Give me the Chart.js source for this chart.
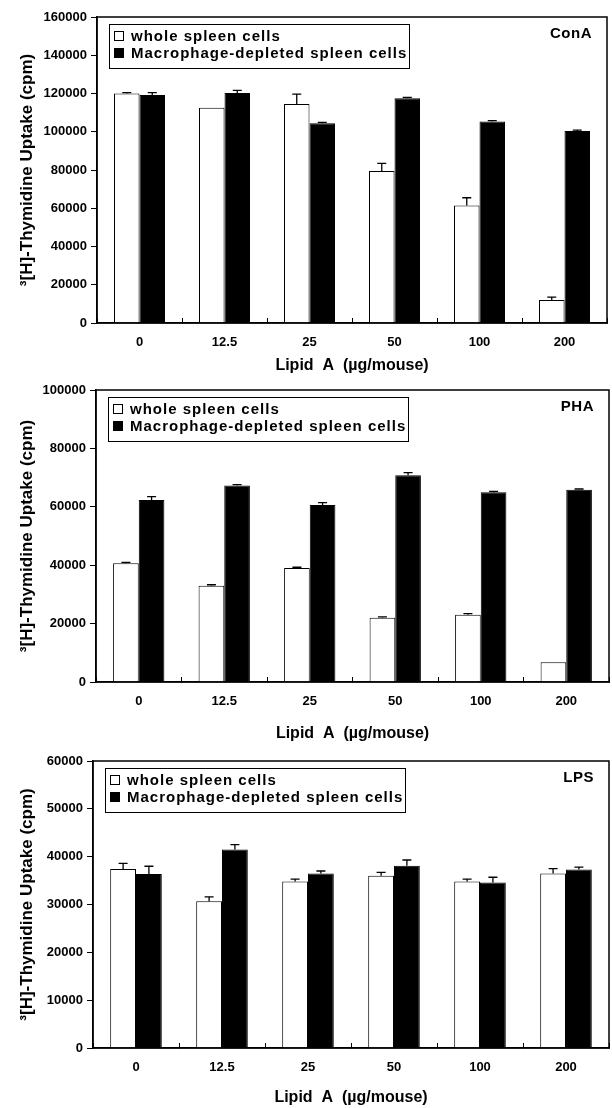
<!DOCTYPE html>
<html><head><meta charset="utf-8">
<script src="https://cdn.jsdelivr.net/npm/chart.js@4.4.1/dist/chart.umd.min.js"></script>
<style>
html,body{margin:0;padding:0;background:#fff;}
#wrap{position:relative;width:612px;height:1108px;background:#fff;}
.p{position:absolute;left:0;width:612px;}
</style></head><body>
<div id="wrap">
<div class="p" style="top:0;height:376px"><canvas id="c1"></canvas></div>
<div class="p" style="top:376px;height:372px"><canvas id="c2"></canvas></div>
<div class="p" style="top:748px;height:360px"><canvas id="c3"></canvas></div>
</div>
<script>
// ---- data ----
const categories = ['0', '12.5', '25', '50', '100', '200'];
const seriesLabels = ['whole spleen cells', 'Macrophage-depleted spleen cells'];
const panelLabels = ['ConA', 'PHA', 'LPS'];

const conaWhole    = [120000, 112500, 114500, 79500, 61500, 12000];
const conaWholeErr = [500, 0, 5200, 4000, 4000, 1500];
const conaMac      = [119200, 120300, 104500, 117500, 105300, 100400];
const conaMacErr   = [1300, 1300, 400, 500, 500, 400];

const phaWhole     = [40700, 33000, 39000, 22000, 23000, 6800];
const phaWholeErr  = [300, 300, 300, 300, 400, 0];
const phaMac       = [62300, 67300, 60600, 70800, 65000, 65800];
const phaMacErr    = [1200, 300, 800, 900, 300, 300];

const lpsWhole     = [37400, 30700, 34800, 36000, 34800, 36500];
const lpsWholeErr  = [1200, 900, 500, 700, 500, 1000];
const lpsMac       = [36400, 41500, 36500, 38100, 34600, 37300];
const lpsMacErr    = [1600, 1000, 500, 1200, 1100, 500];

const yMaxes = [160000, 100000, 60000];
const ySteps = [20000, 20000, 10000];

const yTitle = '\u00B3[H]-Thymidine Uptake (cpm)';
const xTitle = 'Lipid  A  (\u00B5g/mouse)';

// ---- layout (not data) ----
const layouts = [
  {id:'c1', h:376, top:17, bottom:323, left:97, right:607, tpad:1},
  {id:'c2', h:372, top:14, bottom:306, left:96, right:609, tpad:5},
  {id:'c3', h:360, top:13, bottom:300, left:93, right:609, tpad:1}
];

const FONT = "'Liberation Sans', Arial, sans-serif";
Chart.defaults.font.family = FONT;
Chart.defaults.font.weight = 'bold';
Chart.defaults.color = '#000';

const errorBars = {
  id: 'errorBars',
  afterDatasetsDraw(chart) {
    const ctx = chart.ctx;
    const ys = chart.scales.y;
    ctx.save();
    ctx.strokeStyle = '#000';
    ctx.lineWidth = 1.3;
    chart.data.datasets.forEach((ds, i) => {
      const meta = chart.getDatasetMeta(i);
      meta.data.forEach((el, j) => {
        const e = ds.errors[j];
        if (!e) return;
        const yt = ys.getPixelForValue(ds.data[j] + e);
        const yb = el.y;
        ctx.beginPath();
        ctx.moveTo(el.x, yb);
        ctx.lineTo(el.x, yt);
        ctx.moveTo(el.x - 4.5, yt);
        ctx.lineTo(el.x + 4.5, yt);
        ctx.stroke();
      });
    });
    ctx.restore();
  }
};

const frameLegend = {
  id: 'frameLegend',
  afterDraw(chart, args, opts) {
    const ctx = chart.ctx;
    const a = chart.chartArea;
    ctx.save();
    ctx.strokeStyle = '#000';
    ctx.lineWidth = 1.5;
    ctx.strokeRect(a.left, a.top, a.right - a.left, a.bottom - a.top);
    const bx = a.left + 12, by = a.top + 7, bw = 300, bh = 44;
    ctx.fillStyle = '#fff';
    ctx.fillRect(bx, by, bw, bh);
    ctx.lineWidth = 1;
    ctx.strokeRect(bx + 0.5, by + 0.5, bw, bh);
    ctx.font = 'bold 15px ' + FONT;
    ctx.letterSpacing = '1px';
    ctx.textBaseline = 'middle';
    ctx.textAlign = 'left';
    chart.data.datasets.forEach((ds, i) => {
      const cy = by + 12 + i * 17;
      ctx.fillStyle = ds.backgroundColor;
      ctx.fillRect(bx + 5, cy - 5, 10, 10);
      ctx.strokeStyle = '#000';
      ctx.lineWidth = 1;
      ctx.strokeRect(bx + 5.5, cy - 4.5, 9, 9);
      ctx.fillStyle = '#000';
      ctx.fillText(ds.label, bx + 22, cy + 1);
    });
    ctx.letterSpacing = '0.5px';
    ctx.textAlign = 'right';
    ctx.fillText(opts.text, a.right - 15, a.top + 17);
    ctx.restore();
  }
};

const dataSets = [
  [conaWhole, conaWholeErr, conaMac, conaMacErr],
  [phaWhole, phaWholeErr, phaMac, phaMacErr],
  [lpsWhole, lpsWholeErr, lpsMac, lpsMacErr]
];

layouts.forEach((L, k) => {
  const [w, we, m, me] = dataSets[k];
  new Chart(document.getElementById(L.id), {
    type: 'bar',
    data: {
      labels: categories,
      datasets: [
        {label: seriesLabels[0], data: w, errors: we, backgroundColor: '#fff', borderColor: '#000', borderWidth: 1, borderSkipped: 'bottom'},
        {label: seriesLabels[1], data: m, errors: me, backgroundColor: '#000', borderColor: '#000', borderWidth: 1, borderSkipped: 'bottom'}
      ]
    },
    options: {
      responsive: true,
      maintainAspectRatio: false,
      animation: false,
      categoryPercentage: 0.6,
      barPercentage: 1.0,
      layout: {padding: {top: L.top, right: 612 - L.right, left: 0, bottom: 0}},
      plugins: {
        legend: {display: false},
        tooltip: {enabled: false},
        frameLegend: {text: panelLabels[k]}
      },
      scales: {
        x: {
          afterFit(s) { s.height = L.h - L.bottom; },
          grid: {offset: true, drawOnChartArea: false, drawTicks: true, tickLength: -5, color: '#000', lineWidth: 1},
          border: {display: true, color: '#000', width: 1.5},
          ticks: {font: {size: 13, weight: 'bold'}, padding: 17, maxRotation: 0},
          title: {display: true, text: xTitle, font: {size: 16, weight: 'bold', lineHeight: 1.0}, padding: {top: 0, bottom: L.tpad + 1}}
        },
        y: {
          min: 0, max: yMaxes[k],
          afterFit(s) { s.width = L.left; },
          grid: {drawOnChartArea: false, drawTicks: true, tickLength: 6, color: '#000'},
          border: {display: true, color: '#000', width: 1.5},
          ticks: {stepSize: ySteps[k], font: {size: 13, weight: 'bold'}, padding: 4, callback: v => String(v)},
          title: {display: true, text: yTitle, font: {size: 17, weight: 'bold'}, padding: {top: 17, bottom: 0}}
        }
      }
    },
    plugins: [errorBars, frameLegend]
  });
});
</script>
</body></html>
